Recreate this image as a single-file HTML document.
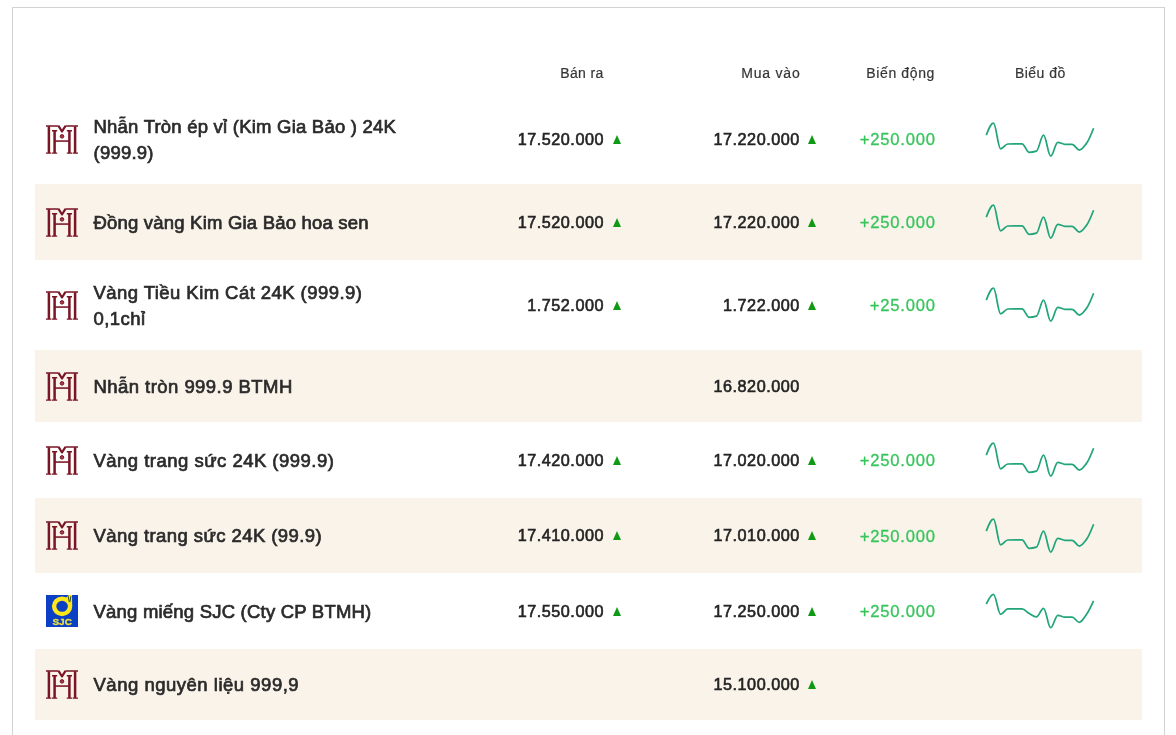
<!DOCTYPE html>
<html lang="vi"><head><meta charset="utf-8"><title>Giá vàng</title>
<style>
html,body{margin:0;padding:0;background:#fff}
body{width:1176px;height:735px;overflow:hidden;position:relative;font-family:"Liberation Sans",sans-serif;color:#2a2a2a}
.frame{position:absolute;left:12px;top:7px;width:1151px;height:760px;border:1px solid #d2d2d2;background:#fff}
.row{position:absolute;left:35px;width:1107px}
.row.alt{background:#f9f3ea}
.ic{position:absolute;left:11px}
.nm{position:absolute;left:58.5px;top:.5px;height:100%;display:flex;align-items:center;font-size:18.5px;line-height:26px;color:#2b2b2b;-webkit-text-stroke:.7px #2b2b2b;letter-spacing:.1px;white-space:nowrap}
.num{position:absolute;top:0px;height:100%;display:flex;align-items:center;justify-content:flex-end;font-size:16.2px;letter-spacing:.53px;color:#242424;-webkit-text-stroke:.6px #242424;white-space:nowrap}
.sell{right:538px}.buy{right:342.2px}
.chg{position:absolute;top:1px;height:100%;right:206.2px;display:flex;align-items:center;font-size:16.6px;letter-spacing:.8px;color:#38c55c;-webkit-text-stroke:.3px #38c55c;white-space:nowrap}
.tri{position:absolute;width:0;height:0;border-left:4.4px solid transparent;border-right:4.4px solid transparent;border-bottom:9px solid #109a13}
.sp{position:absolute;left:941px}
.hd{position:absolute;top:64px;font-size:14px;line-height:18px;color:#363636;-webkit-text-stroke:.2px #363636;white-space:nowrap;letter-spacing:.45px}
</style></head><body>
<div class="frame"></div>
<div class="hd" style="right:572.3px;letter-spacing:.38px">Bán ra</div>
<div class="hd" style="right:375.5px;letter-spacing:.8px">Mua vào</div>
<div class="hd" style="right:241px;letter-spacing:.62px">Biến động</div>
<div class="hd" style="left:1015px">Biểu đồ</div>

<div class="row" style="top:94px;height:90px">
<svg class="ic" style="top:30.8px" width="32" height="29.4" viewBox="0 0 32 30" preserveAspectRatio="none"><g fill="none" stroke="#7a1524" stroke-width="2.5"><path d="M2.9 1.3V28.6M29.1 1.3V28.6M8.6 5.6V28.6M23.4 5.6V28.6"/><path d="M8.6 16.4H23.4" stroke-width="1.6"/><path d="M0 1H12.6M19.4 1H32" stroke-width="1.5"/><path d="M12.5 0.9L16 6.6L19.5 0.9" stroke-width="2.2" stroke-linejoin="round"/><path d="M0 28.7H5.4M6 28.7H11.2M20.8 28.7H26M26.6 28.7H32M6 5.9H11.2M20.8 5.9H26" stroke-width="1.5"/></g><circle cx="16" cy="11.6" r="1.8" fill="#a63c4c" stroke="#7a1524" stroke-width="1"/></svg>
<div class="nm" style="letter-spacing:0.22px">Nhẫn Tròn ép vỉ (Kim Gia Bảo ) 24K<br>(999.9)</div>
<div class="num sell">17.520.000</div><i class="tri" style="left:578px;top:40.5px"></i>
<div class="num buy">17.220.000</div>
<i class="tri" style="left:773px;top:40.5px"></i>
<div class="chg">+250.000</div>
<svg class="sp" style="top:16.3px" width="130" height="60" viewBox="0 0 130 60"><path d="M10.30 25.10 C12.92 18.55 14.83 13.20 17.45 13.20 C20.08 13.20 21.98 38.80 24.61 38.80 C27.23 38.80 29.14 34.07 31.76 34.00 C34.38 33.93 36.29 33.90 38.91 33.90 C41.53 33.90 43.44 33.90 46.06 33.90 C48.69 33.90 50.60 42.40 53.22 42.40 C55.84 42.40 57.75 42.02 60.37 41.20 C62.99 40.38 64.90 25.10 67.52 25.10 C70.15 25.10 72.05 46.00 74.68 46.00 C77.30 46.00 79.21 32.30 81.83 32.30 C84.45 32.30 86.36 34.30 88.98 34.30 C91.61 34.30 93.51 34.30 96.14 34.30 C98.76 34.30 100.67 40.00 103.29 40.00 C105.91 40.00 107.82 36.77 110.44 33.40 C113.06 30.03 114.97 24.87 117.59 18.20" fill="none" stroke="#21a57a" stroke-width="1.75" stroke-linecap="butt" stroke-linejoin="round"/></svg>
</div>
<div class="row alt" style="top:184px;height:76px">
<svg class="ic" style="top:23.8px" width="32" height="29.4" viewBox="0 0 32 30" preserveAspectRatio="none"><g fill="none" stroke="#7a1524" stroke-width="2.5"><path d="M2.9 1.3V28.6M29.1 1.3V28.6M8.6 5.6V28.6M23.4 5.6V28.6"/><path d="M8.6 16.4H23.4" stroke-width="1.6"/><path d="M0 1H12.6M19.4 1H32" stroke-width="1.5"/><path d="M12.5 0.9L16 6.6L19.5 0.9" stroke-width="2.2" stroke-linejoin="round"/><path d="M0 28.7H5.4M6 28.7H11.2M20.8 28.7H26M26.6 28.7H32M6 5.9H11.2M20.8 5.9H26" stroke-width="1.5"/></g><circle cx="16" cy="11.6" r="1.8" fill="#a63c4c" stroke="#7a1524" stroke-width="1"/></svg>
<div class="nm" style="letter-spacing:0.2px">Đồng vàng Kim Gia Bảo hoa sen</div>
<div class="num sell">17.520.000</div><i class="tri" style="left:578px;top:33.5px"></i>
<div class="num buy">17.220.000</div>
<i class="tri" style="left:773px;top:33.5px"></i>
<div class="chg">+250.000</div>
<svg class="sp" style="top:8.0px" width="130" height="60" viewBox="0 0 130 60"><path d="M10.30 25.10 C12.92 18.55 14.83 13.20 17.45 13.20 C20.08 13.20 21.98 38.80 24.61 38.80 C27.23 38.80 29.14 34.07 31.76 34.00 C34.38 33.93 36.29 33.90 38.91 33.90 C41.53 33.90 43.44 33.90 46.06 33.90 C48.69 33.90 50.60 42.40 53.22 42.40 C55.84 42.40 57.75 42.02 60.37 41.20 C62.99 40.38 64.90 25.10 67.52 25.10 C70.15 25.10 72.05 46.00 74.68 46.00 C77.30 46.00 79.21 32.30 81.83 32.30 C84.45 32.30 86.36 34.30 88.98 34.30 C91.61 34.30 93.51 34.30 96.14 34.30 C98.76 34.30 100.67 40.00 103.29 40.00 C105.91 40.00 107.82 36.77 110.44 33.40 C113.06 30.03 114.97 24.87 117.59 18.20" fill="none" stroke="#21a57a" stroke-width="1.75" stroke-linecap="butt" stroke-linejoin="round"/></svg>
</div>
<div class="row" style="top:260px;height:90px">
<svg class="ic" style="top:30.8px" width="32" height="29.4" viewBox="0 0 32 30" preserveAspectRatio="none"><g fill="none" stroke="#7a1524" stroke-width="2.5"><path d="M2.9 1.3V28.6M29.1 1.3V28.6M8.6 5.6V28.6M23.4 5.6V28.6"/><path d="M8.6 16.4H23.4" stroke-width="1.6"/><path d="M0 1H12.6M19.4 1H32" stroke-width="1.5"/><path d="M12.5 0.9L16 6.6L19.5 0.9" stroke-width="2.2" stroke-linejoin="round"/><path d="M0 28.7H5.4M6 28.7H11.2M20.8 28.7H26M26.6 28.7H32M6 5.9H11.2M20.8 5.9H26" stroke-width="1.5"/></g><circle cx="16" cy="11.6" r="1.8" fill="#a63c4c" stroke="#7a1524" stroke-width="1"/></svg>
<div class="nm" style="letter-spacing:0.44px">Vàng Tiều Kim Cát 24K (999.9)<br>0,1chỉ</div>
<div class="num sell">1.752.000</div><i class="tri" style="left:578px;top:40.5px"></i>
<div class="num buy">1.722.000</div>
<i class="tri" style="left:773px;top:40.5px"></i>
<div class="chg">+25.000</div>
<svg class="sp" style="top:15.0px" width="130" height="60" viewBox="0 0 130 60"><path d="M10.30 25.10 C12.92 18.55 14.83 13.20 17.45 13.20 C20.08 13.20 21.98 38.80 24.61 38.80 C27.23 38.80 29.14 34.07 31.76 34.00 C34.38 33.93 36.29 33.90 38.91 33.90 C41.53 33.90 43.44 33.90 46.06 33.90 C48.69 33.90 50.60 42.40 53.22 42.40 C55.84 42.40 57.75 42.02 60.37 41.20 C62.99 40.38 64.90 25.10 67.52 25.10 C70.15 25.10 72.05 46.00 74.68 46.00 C77.30 46.00 79.21 32.30 81.83 32.30 C84.45 32.30 86.36 34.30 88.98 34.30 C91.61 34.30 93.51 34.30 96.14 34.30 C98.76 34.30 100.67 40.00 103.29 40.00 C105.91 40.00 107.82 36.77 110.44 33.40 C113.06 30.03 114.97 24.87 117.59 18.20" fill="none" stroke="#21a57a" stroke-width="1.75" stroke-linecap="butt" stroke-linejoin="round"/></svg>
</div>
<div class="row alt" style="top:350px;height:72px">
<svg class="ic" style="top:21.8px" width="32" height="29.4" viewBox="0 0 32 30" preserveAspectRatio="none"><g fill="none" stroke="#7a1524" stroke-width="2.5"><path d="M2.9 1.3V28.6M29.1 1.3V28.6M8.6 5.6V28.6M23.4 5.6V28.6"/><path d="M8.6 16.4H23.4" stroke-width="1.6"/><path d="M0 1H12.6M19.4 1H32" stroke-width="1.5"/><path d="M12.5 0.9L16 6.6L19.5 0.9" stroke-width="2.2" stroke-linejoin="round"/><path d="M0 28.7H5.4M6 28.7H11.2M20.8 28.7H26M26.6 28.7H32M6 5.9H11.2M20.8 5.9H26" stroke-width="1.5"/></g><circle cx="16" cy="11.6" r="1.8" fill="#a63c4c" stroke="#7a1524" stroke-width="1"/></svg>
<div class="nm" style="letter-spacing:0.45px">Nhẫn tròn 999.9 BTMH</div>
<div class="num buy">16.820.000</div>
</div>
<div class="row" style="top:422px;height:76px">
<svg class="ic" style="top:23.8px" width="32" height="29.4" viewBox="0 0 32 30" preserveAspectRatio="none"><g fill="none" stroke="#7a1524" stroke-width="2.5"><path d="M2.9 1.3V28.6M29.1 1.3V28.6M8.6 5.6V28.6M23.4 5.6V28.6"/><path d="M8.6 16.4H23.4" stroke-width="1.6"/><path d="M0 1H12.6M19.4 1H32" stroke-width="1.5"/><path d="M12.5 0.9L16 6.6L19.5 0.9" stroke-width="2.2" stroke-linejoin="round"/><path d="M0 28.7H5.4M6 28.7H11.2M20.8 28.7H26M26.6 28.7H32M6 5.9H11.2M20.8 5.9H26" stroke-width="1.5"/></g><circle cx="16" cy="11.6" r="1.8" fill="#a63c4c" stroke="#7a1524" stroke-width="1"/></svg>
<div class="nm" style="letter-spacing:0.48px">Vàng trang sức 24K (999.9)</div>
<div class="num sell">17.420.000</div><i class="tri" style="left:578px;top:33.5px"></i>
<div class="num buy">17.020.000</div>
<i class="tri" style="left:773px;top:33.5px"></i>
<div class="chg">+250.000</div>
<svg class="sp" style="top:8.0px" width="130" height="60" viewBox="0 0 130 60"><path d="M10.30 25.10 C12.92 18.55 14.83 13.20 17.45 13.20 C20.08 13.20 21.98 38.80 24.61 38.80 C27.23 38.80 29.14 34.07 31.76 34.00 C34.38 33.93 36.29 33.90 38.91 33.90 C41.53 33.90 43.44 33.90 46.06 33.90 C48.69 33.90 50.60 42.40 53.22 42.40 C55.84 42.40 57.75 42.02 60.37 41.20 C62.99 40.38 64.90 25.10 67.52 25.10 C70.15 25.10 72.05 46.00 74.68 46.00 C77.30 46.00 79.21 32.30 81.83 32.30 C84.45 32.30 86.36 34.30 88.98 34.30 C91.61 34.30 93.51 34.30 96.14 34.30 C98.76 34.30 100.67 40.00 103.29 40.00 C105.91 40.00 107.82 36.77 110.44 33.40 C113.06 30.03 114.97 24.87 117.59 18.20" fill="none" stroke="#21a57a" stroke-width="1.75" stroke-linecap="butt" stroke-linejoin="round"/></svg>
</div>
<div class="row alt" style="top:498px;height:75px">
<svg class="ic" style="top:23.3px" width="32" height="29.4" viewBox="0 0 32 30" preserveAspectRatio="none"><g fill="none" stroke="#7a1524" stroke-width="2.5"><path d="M2.9 1.3V28.6M29.1 1.3V28.6M8.6 5.6V28.6M23.4 5.6V28.6"/><path d="M8.6 16.4H23.4" stroke-width="1.6"/><path d="M0 1H12.6M19.4 1H32" stroke-width="1.5"/><path d="M12.5 0.9L16 6.6L19.5 0.9" stroke-width="2.2" stroke-linejoin="round"/><path d="M0 28.7H5.4M6 28.7H11.2M20.8 28.7H26M26.6 28.7H32M6 5.9H11.2M20.8 5.9H26" stroke-width="1.5"/></g><circle cx="16" cy="11.6" r="1.8" fill="#a63c4c" stroke="#7a1524" stroke-width="1"/></svg>
<div class="nm" style="letter-spacing:0.42px">Vàng trang sức 24K (99.9)</div>
<div class="num sell">17.410.000</div><i class="tri" style="left:578px;top:33.0px"></i>
<div class="num buy">17.010.000</div>
<i class="tri" style="left:773px;top:33.0px"></i>
<div class="chg">+250.000</div>
<svg class="sp" style="top:7.5px" width="130" height="60" viewBox="0 0 130 60"><path d="M10.30 25.10 C12.92 18.55 14.83 13.20 17.45 13.20 C20.08 13.20 21.98 38.80 24.61 38.80 C27.23 38.80 29.14 34.07 31.76 34.00 C34.38 33.93 36.29 33.90 38.91 33.90 C41.53 33.90 43.44 33.90 46.06 33.90 C48.69 33.90 50.60 42.40 53.22 42.40 C55.84 42.40 57.75 42.02 60.37 41.20 C62.99 40.38 64.90 25.10 67.52 25.10 C70.15 25.10 72.05 46.00 74.68 46.00 C77.30 46.00 79.21 32.30 81.83 32.30 C84.45 32.30 86.36 34.30 88.98 34.30 C91.61 34.30 93.51 34.30 96.14 34.30 C98.76 34.30 100.67 40.00 103.29 40.00 C105.91 40.00 107.82 36.77 110.44 33.40 C113.06 30.03 114.97 24.87 117.59 18.20" fill="none" stroke="#21a57a" stroke-width="1.75" stroke-linecap="butt" stroke-linejoin="round"/></svg>
</div>
<div class="row" style="top:573px;height:76px">
<svg class="ic" style="top:22.0px" width="32" height="32" viewBox="0 0 32 32"><rect width="32" height="32" fill="#0b3fc4"/><ellipse cx="16.1" cy="11.3" rx="8" ry="7.7" fill="none" stroke="#ffe81a" stroke-width="4.4"/><path d="M19.6 3.4L22.4 0H26L26.2 11L21.8 8.2Z" fill="#ffe81a"/><path d="M22.1 0.6L23.2 6.8M24.9 1.2L23.9 7.2" stroke="#23401c" stroke-width="0.9" fill="none"/><text x="16.2" y="29.5" text-anchor="middle" font-family="Liberation Sans, sans-serif" font-weight="bold" font-size="9.6" stroke="#f0e23c" stroke-width=".3" textLength="19.5" lengthAdjust="spacingAndGlyphs" fill="#f0e23c">SJC</text></svg>
<div class="nm" style="letter-spacing:0.21px">Vàng miếng SJC (Cty CP BTMH)</div>
<div class="num sell">17.550.000</div><i class="tri" style="left:578px;top:33.5px"></i>
<div class="num buy">17.250.000</div>
<i class="tri" style="left:773px;top:33.5px"></i>
<div class="chg">+250.000</div>
<svg class="sp" style="top:8.0px" width="130" height="60" viewBox="0 0 130 60"><path d="M10.30 23.10 C12.92 17.71 14.83 13.30 17.45 13.30 C20.08 13.30 21.98 33.25 24.61 33.25 C27.23 33.25 29.14 27.90 31.76 27.90 C34.38 27.90 36.29 27.90 38.91 27.90 C41.53 27.90 43.44 27.90 46.06 27.90 C48.69 27.90 50.60 31.18 53.22 32.60 C55.84 34.02 57.75 35.90 60.37 35.90 C62.99 35.90 64.90 27.30 67.52 27.30 C70.15 27.30 72.05 46.70 74.68 46.70 C77.30 46.70 79.21 34.40 81.83 34.40 C84.45 34.40 86.36 36.20 88.98 36.20 C91.61 36.20 93.51 36.20 96.14 36.20 C98.76 36.20 100.67 41.30 103.29 41.30 C105.91 41.30 107.82 37.14 110.44 33.50 C113.06 29.86 114.97 25.51 117.59 19.80" fill="none" stroke="#21a57a" stroke-width="1.75" stroke-linecap="butt" stroke-linejoin="round"/></svg>
</div>
<div class="row alt" style="top:649px;height:71px">
<svg class="ic" style="top:21.3px" width="32" height="29.4" viewBox="0 0 32 30" preserveAspectRatio="none"><g fill="none" stroke="#7a1524" stroke-width="2.5"><path d="M2.9 1.3V28.6M29.1 1.3V28.6M8.6 5.6V28.6M23.4 5.6V28.6"/><path d="M8.6 16.4H23.4" stroke-width="1.6"/><path d="M0 1H12.6M19.4 1H32" stroke-width="1.5"/><path d="M12.5 0.9L16 6.6L19.5 0.9" stroke-width="2.2" stroke-linejoin="round"/><path d="M0 28.7H5.4M6 28.7H11.2M20.8 28.7H26M26.6 28.7H32M6 5.9H11.2M20.8 5.9H26" stroke-width="1.5"/></g><circle cx="16" cy="11.6" r="1.8" fill="#a63c4c" stroke="#7a1524" stroke-width="1"/></svg>
<div class="nm" style="letter-spacing:0.51px">Vàng nguyên liệu 999,9</div>
<div class="num buy">15.100.000</div>
<i class="tri" style="left:773px;top:31.0px"></i>
</div>
</body></html>
